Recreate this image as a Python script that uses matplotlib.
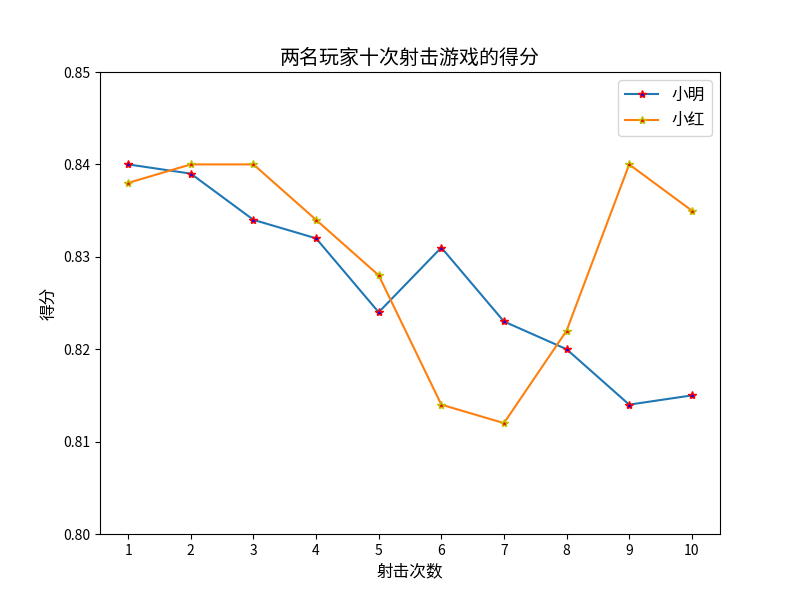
import matplotlib
matplotlib.use("Agg")
import matplotlib.pyplot as plt

plt.rcParams['font.family'] = ['Noto Sans CJK SC', 'DejaVu Sans']
plt.rcParams['font.size'] = 12
plt.rcParams['axes.unicode_minus'] = False

shots = [1, 2, 3, 4, 5, 6, 7, 8, 9, 10]
xiaoming = [0.840, 0.839, 0.834, 0.832, 0.824, 0.831, 0.823, 0.820, 0.814, 0.815]
xiaohong = [0.838, 0.840, 0.840, 0.834, 0.828, 0.814, 0.812, 0.822, 0.840, 0.835]

fig, ax = plt.subplots(figsize=(8, 6), dpi=100)
ax.plot(shots, xiaoming, marker="*", markeredgecolor="r", markerfacecolor="b", label="小明")
ax.plot(shots, xiaohong, marker="*", markeredgecolor="y", markerfacecolor="r", label="小红")
ax.set_ylim(0.80, 0.85)
ax.set_xticks(shots)
ax.tick_params(labelsize=10)
ax.set_title("两名玩家十次射击游戏的得分")
ax.set_xlabel("射击次数")
ax.set_ylabel("得分")
ax.legend()
fig.savefig("out.png")
